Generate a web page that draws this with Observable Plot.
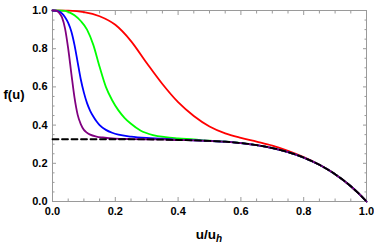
<!DOCTYPE html>
<html><head><meta charset="utf-8">
<script src="https://cdn.jsdelivr.net/npm/d3@7"></script>
<script src="https://cdn.jsdelivr.net/npm/@observablehq/plot@0.6"></script>
<style>body{margin:0;background:#fff}svg{display:block}</style>
</head><body><div id="chart"></div>
<script>
// ---- data ----
const majorTicks = [0, 0.2, 0.4, 0.6, 0.8, 1.0];
const minorTicks = [0.05,0.1,0.15,0.25,0.3,0.35,0.45,0.5,0.55,0.65,0.7,0.75,0.85,0.9,0.95];

const dashedU = [0,0.1,0.2,0.3,0.4,0.45,0.5,0.55,0.6,0.65,0.7,0.75,0.8,0.85,0.9,0.95,0.975,1];
const dashedF = [0.326,0.326,0.326,0.325,0.322,0.320,0.317,0.313,0.306,0.295,0.280,0.259,0.230,0.192,0.143,0.080,0.042,0];

const redU = [0,0.05,0.1,0.15,0.2,0.25,0.3,0.35,0.4,0.45,0.5,0.55,0.6,0.65,0.7,0.75,0.8];
const redF = [1,0.999,0.992,0.97,0.925,0.84,0.725,0.615,0.52,0.448,0.393,0.357,0.333,0.313,0.292,0.265,0.232];

const greenU = [0,0.03,0.05,0.07,0.09,0.11,0.13,0.15,0.17,0.19,0.21,0.23,0.25,0.28,0.32,0.36,0.4,0.45,0.5];
const greenF = [1,0.999,0.993,0.975,0.945,0.9,0.82,0.705,0.60,0.53,0.477,0.437,0.407,0.372,0.348,0.337,0.331,0.325,0.318];

const blueU = [0,0.02,0.03,0.04,0.05,0.06,0.07,0.08,0.09,0.1,0.11,0.12,0.13,0.14,0.15,0.17,0.19,0.21,0.25,0.3,0.35,0.4];
const blueF = [1,0.996,0.985,0.965,0.935,0.89,0.82,0.73,0.64,0.57,0.515,0.475,0.445,0.42,0.40,0.375,0.36,0.35,0.34,0.333,0.329,0.323];

const purpleU = [0,0.01,0.02,0.03,0.04,0.05,0.06,0.07,0.08,0.09,0.1,0.11,0.12,0.14,0.16,0.2,0.25,0.3,0.35,0.4];
const purpleF = [1,0.999,0.99,0.965,0.905,0.8,0.67,0.545,0.455,0.405,0.375,0.36,0.35,0.34,0.335,0.329,0.327,0.326,0.325,0.322];

const colors = {red: "#ff0000", green: "#00ff00", blue: "#0000ff", purple: "#800080"};

// build rows: each coloured curve then follows the dashed limiting curve
function rows(us, fs) {
  const last = us[us.length - 1];
  const r = us.map((u, i) => ({u, f: fs[i]}));
  dashedU.forEach((u, i) => { if (u > last) r.push({u, f: dashedF[i]}); });
  return r;
}
const dashedRows = dashedU.map((u, i) => ({u, f: dashedF[i]}));

const fmt = d3.format(".1f");
const frameGray = "#9a9a9a";

const plot = Plot.plot({
  width: 374, height: 247,
  marginLeft: 52, marginRight: 8, marginTop: 10, marginBottom: 46,
  style: {fontFamily: "'Liberation Sans', Arial, sans-serif", fontSize: "11px", fontWeight: "bold", background: "#fff"},
  x: {domain: [0, 1]},
  y: {domain: [0, 1]},
  marks: [
    // inward ticks on all four sides
    Plot.axisX(majorTicks, {anchor: "bottom", tickSize: -4, text: null, stroke: frameGray, label: null}),
    Plot.axisX(minorTicks, {anchor: "bottom", tickSize: -2.5, text: null, stroke: frameGray, label: null}),
    Plot.axisX(majorTicks, {anchor: "top", tickSize: -4, text: null, stroke: frameGray, label: null}),
    Plot.axisX(minorTicks, {anchor: "top", tickSize: -2.5, text: null, stroke: frameGray, label: null}),
    Plot.axisY(majorTicks, {anchor: "left", tickSize: -4, text: null, stroke: frameGray, label: null}),
    Plot.axisY(minorTicks, {anchor: "left", tickSize: -2.5, text: null, stroke: frameGray, label: null}),
    Plot.axisY(majorTicks, {anchor: "right", tickSize: -4, text: null, stroke: frameGray, label: null}),
    Plot.axisY(minorTicks, {anchor: "right", tickSize: -2.5, text: null, stroke: frameGray, label: null}),
    // labels
    Plot.axisX(majorTicks, {anchor: "bottom", tickSize: 0, tickPadding: 6, tickFormat: fmt, label: null, fill: "#000"}),
    Plot.axisY(majorTicks, {anchor: "left", tickSize: 0, tickPadding: 5, tickFormat: fmt, label: null, fill: "#000"}),
    Plot.frame({stroke: frameGray}),
    Plot.line(rows(redU, redF), {x: "u", y: "f", stroke: colors.red, strokeWidth: 1.8, curve: "monotone-x"}),
    Plot.line(rows(greenU, greenF), {x: "u", y: "f", stroke: colors.green, strokeWidth: 1.8, curve: "monotone-x"}),
    Plot.line(rows(blueU, blueF), {x: "u", y: "f", stroke: colors.blue, strokeWidth: 1.8, curve: "monotone-x"}),
    Plot.line(rows(purpleU, purpleF), {x: "u", y: "f", stroke: colors.purple, strokeWidth: 1.8, curve: "monotone-x"}),
    Plot.line(dashedRows, {x: "u", y: "f", stroke: "#000", strokeWidth: 1.8, strokeDasharray: "6,3.5", curve: "monotone-x"})
  ]
});

// axis titles as real text (with subscript)
const svg = d3.select(plot);
svg.append("text")
  .attr("x", 14).attr("y", 99)
  .attr("text-anchor", "middle")
  .attr("font-size", 13).attr("font-weight", "bold")
  .attr("font-family", "'Liberation Sans', Arial, sans-serif")
  .text("f(u)");
const xl = svg.append("text")
  .attr("x", 209).attr("y", 239)
  .attr("text-anchor", "middle")
  .attr("font-size", 13.5).attr("font-weight", "bold")
  .attr("font-family", "'Liberation Sans', Arial, sans-serif");
xl.append("tspan").text("u/u");
xl.append("tspan").attr("font-style", "italic").attr("font-size", 10).attr("dy", 3).text("h");

document.getElementById("chart").append(plot);
</script>
</body></html>
